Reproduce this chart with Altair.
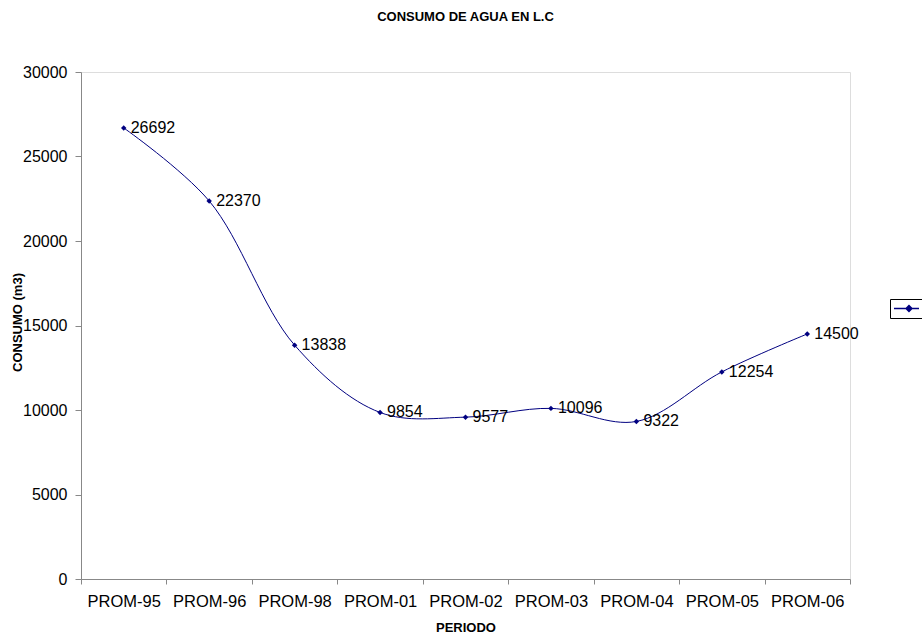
import altair as alt
import pandas as pd

periodos = ["PROM-95", "PROM-96", "PROM-98", "PROM-01", "PROM-02",
            "PROM-03", "PROM-04", "PROM-05", "PROM-06"]
consumo = [26692, 22370, 13838, 9854, 9577, 10096, 9322, 12254, 14500]
y_ticks = [0, 5000, 10000, 15000, 20000, 25000, 30000]

n = len(periodos)
df = pd.DataFrame({
    "periodo": periodos,
    "consumo": consumo,
    "pos": [i + 0.5 for i in range(n)],
    "serie": ["Serie1"] * n,
})

FONT = "Liberation Sans"
NAVY = "#000080"
W, H = 769, 507

names_js = "[" + ",".join("'%s'" % p for p in periodos) + "]"
label_expr = "datum.value < %d ? %s[datum.value] : ''" % (n, names_js)

x_enc = alt.X(
    "pos:Q",
    scale=alt.Scale(domain=[0, n], nice=False, zero=False),
    axis=alt.Axis(
        grid=False,
        values=list(range(n + 1)),
        labelExpr=label_expr,
        labelOffset=W / n / 2,
        labelFlush=False,
        labelOverlap=False,
        labelFontSize=16.5,
        labelPadding=9,
        tickSize=5,
        title="PERIODO",
        titleFontSize=13,
        titleFontWeight="bold",
        titleX=W / 2,
        titleY=52,
        titleBaseline="alphabetic",
        titleAlign="center",
    ),
)
y_enc = alt.Y(
    "consumo:Q",
    scale=alt.Scale(domain=[0, 30000], nice=False),
    axis=alt.Axis(
        grid=False,
        values=y_ticks,
        format="d",
        labelFontSize=16,
        labelPadding=8,
        tickSize=6,
        title="CONSUMO (m3)",
        titleFontSize=13,
        titleFontWeight="bold",
        titleAngle=270,
        titleX=-60,
        titleY=250,
        titleBaseline="alphabetic",
        titleAlign="center",
    ),
)

base = alt.Chart(df)

line = base.mark_line(interpolate="catmull-rom", strokeWidth=1).encode(
    x=x_enc,
    y=y_enc,
    color=alt.Color(
        "serie:N",
        scale=alt.Scale(range=[NAVY]),
        legend=alt.Legend(
            title=None,
            orient="none",
            legendX=809,
            legendY=227,
            labelExpr="'\u00a0\u00a0\u00a0\u00a0\u00a0\u00a0'",
            labelFontSize=13,
            labelOffset=0,
            symbolType="M-0.85,0H3M1.01,0L1.46,-0.45L1.91,0L1.46,0.45Z",
            symbolSize=169,
            symbolFillColor=NAVY,
            symbolStrokeColor=NAVY,
            symbolStrokeWidth=1.5,
            strokeColor="black",
            padding=2,
        ),
    ),
)

points = base.mark_point(shape="diamond", filled=True, size=30, color=NAVY, opacity=1).encode(
    x=x_enc, y=y_enc
)

labels = base.mark_text(align="left", baseline="middle", dx=7, fontSize=16, font=FONT, color="black").encode(
    x=x_enc, y=y_enc, text=alt.Text("consumo:Q", format="d")
)

chart = alt.layer(line, points, labels).properties(
    width=W,
    height=H,
    title=alt.TitleParams(
        "CONSUMO DE AGUA EN L.C",
        fontSize=13,
        fontWeight="bold",
        font=FONT,
        anchor="middle",
        baseline="bottom",
        offset=27,
    ),
    autosize=alt.AutoSizeParams(type="none"),
    padding={"left": 81, "top": 72, "right": 72, "bottom": 58},
).configure_view(stroke=None).configure_axis(
    grid=False,
    domainColor="#808080",
    tickColor="#808080",
    labelColor="black",
    titleColor="black",
    labelFont=FONT,
    titleFont=FONT,
).configure(background="white")

chart.save("out.html", embed_options={"renderer": "svg", "actions": False})
